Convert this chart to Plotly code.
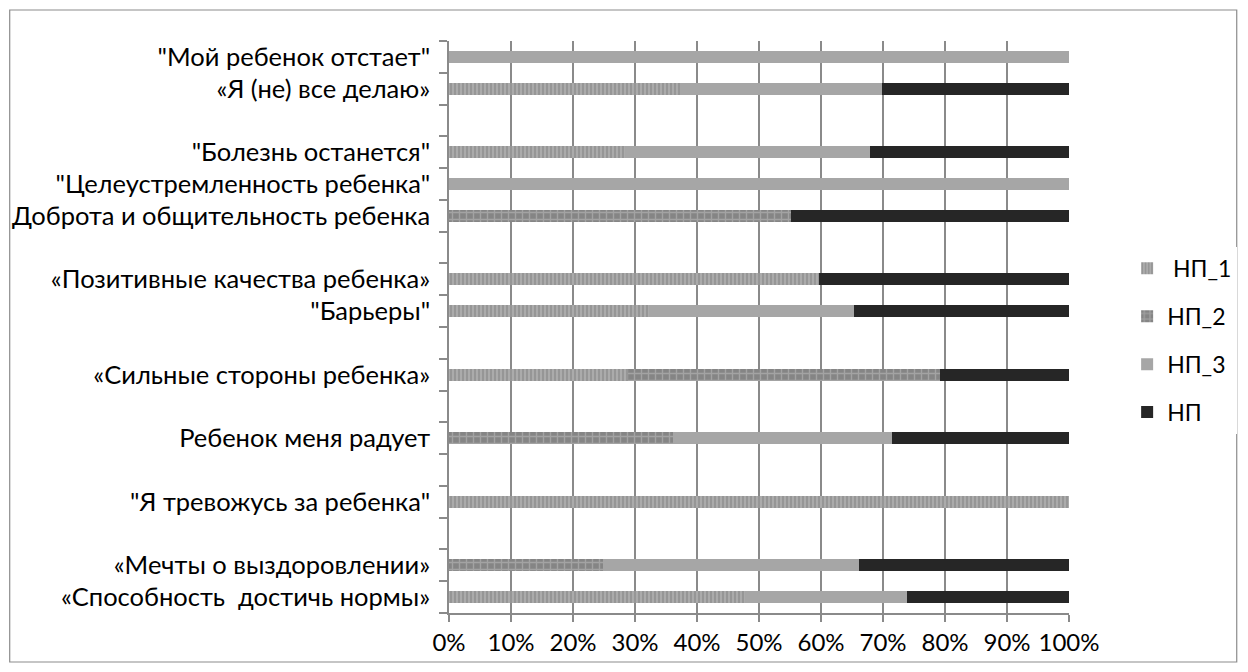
import plotly.graph_objects as go

# Rows from top to bottom; empty strings are spacer rows without a bar
categories = [
    '"Мой ребенок отстает"',
    '«Я (не) все делаю»',
    '',
    '"Болезнь останется"',
    '"Целеустремленность ребенка"',
    'Доброта и общительность ребенка',
    '',
    '«Позитивные качества ребенка»',
    '"Барьеры"',
    '',
    '«Сильные стороны ребенка»',
    '',
    'Ребенок меня радует',
    '',
    '"Я тревожусь за ребенка"',
    '',
    '«Мечты о выздоровлении»',
    '«Способность \u00a0достичь нормы»',
]

# Shares (%) of each group per row
np_1 = [0, 37.2, None, 28.4, 0, 0, None, 59.7, 32.2, None, 28.9, None, 0, None, 100, None, 0, 47.8]
np_2 = [0, 0, None, 0, 0, 55.2, None, 0, 0, None, 50.3, None, 36.1, None, 0, None, 24.8, 0]
np_3 = [100, 32.6, None, 39.5, 100, 0, None, 0, 33.2, None, 0, None, 35.3, None, 0, None, 41.4, 26.0]
np_0 = [0, 30.2, None, 32.1, 0, 44.8, None, 40.3, 34.6, None, 20.8, None, 28.6, None, 0, None, 33.8, 26.2]

series_names = ["\u00a0НП_1", "НП_2", "НП_3", "НП"]

n = len(categories)
ypos = [n - 1 - i for i in range(n)]

FONT = "Lato"
GRID = "#8a8a8a"

styles = [
    dict(color="#a8a8a8", pattern=dict(shape="|", bgcolor="#ababab", fgcolor="#7c7c7c", size=4, solidity=0.45)),
    dict(color="#8a8a8a", pattern=dict(shape="+", bgcolor="#858585", fgcolor="#c2c2c2", size=7, solidity=0.35)),
    dict(color="#a6a6a6"),
    dict(color="#262626"),
]

fig = go.Figure()
for name, vals, st in zip(series_names, [np_1, np_2, np_3, np_0], styles):
    fig.add_trace(go.Bar(
        x=vals, y=ypos, orientation="h", name=name, width=0.38,
        marker=dict(line=dict(width=0), **st),
        legendgroup=name,
    ))

label_pos = [p for p, c in zip(ypos, categories) if c]
label_txt = [c for c in categories if c]
boundaries = [k - 0.5 for k in range(n + 1)]

fig.update_layout(
    barmode="stack",
    width=1248, height=672,
    margin=dict(l=449, r=178, t=41, b=59),
    paper_bgcolor="white", plot_bgcolor="white",
    font=dict(family=FONT, size=25, color="#000000"),
    showlegend=True,
    legend=dict(
        x=1.092, y=0.64, xanchor="left", yanchor="top",
        traceorder="grouped", tracegroupgap=15,
        font=dict(family=FONT, size=23, color="#000000"),
        itemwidth=30,
    ),
    xaxis=dict(
        range=[0, 100], tick0=0, dtick=10, ticksuffix="%",
        showgrid=True, gridcolor=GRID, gridwidth=1.5,
        showline=True, linecolor=GRID, linewidth=1.5,
        ticks="outside", ticklen=7, tickcolor=GRID, tickwidth=1.5,
        tickfont=dict(family=FONT, size=24, color="#000000"),
        zeroline=False, fixedrange=True,
    ),
    yaxis=dict(
        range=[-0.5, n - 0.5],
        tickmode="array", tickvals=label_pos, ticktext=label_txt,
        ticks="", showgrid=False, zeroline=False,
        showline=True, linecolor=GRID, linewidth=1.5,
        ticklabelstandoff=12,
        tickfont=dict(family=FONT, size=25.5, color="#000000"),
        minor=dict(tickmode="array", tickvals=boundaries, ticks="outside",
                   ticklen=8, tickcolor=GRID, tickwidth=1.5, showgrid=False),
        fixedrange=True,
    ),
    shapes=[dict(
        type="rect", xref="paper", yref="paper",
        x0=(9 - 449) / 621, x1=(1238 - 449) / 621,
        y0=(613 - 662) / 572, y1=(613 - 10) / 572,
        line=dict(color="#8c8c8c", width=1.2), fillcolor="rgba(0,0,0,0)",
        layer="below",
    )],
)

fig.write_html("out.html")
